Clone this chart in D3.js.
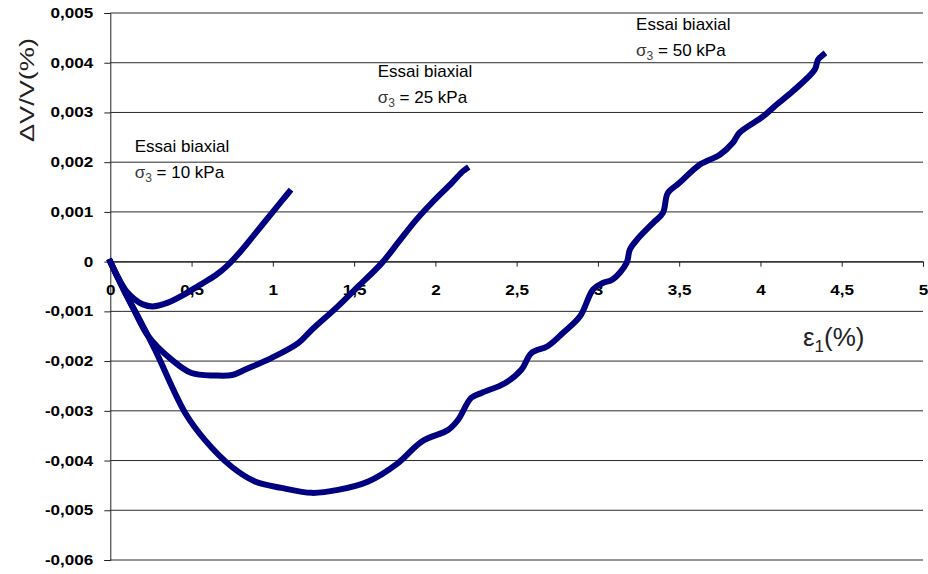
<html>
<head>
  <meta charset="UTF-8">
  <title>Essai biaxial - variation de volume</title>
  <script src="https://d3js.org/d3.v7.min.js"></script>
  <style>
    body { margin: 0; background: #fff; }
    text { font-family: "Liberation Sans", Arial, sans-serif; }
  </style>
</head>
<body>

    <svg id="chart" width="928" height="574"></svg>

    <script>

        // epsilon_1 (%) and dV/V (%)
        const x10 = [0, 0.05, 0.1, 0.15, 0.2, 0.26, 0.35, 0.45, 0.55, 0.65, 0.72, 0.8, 0.9, 1.0, 1.06, 1.1];
        const y10 = [0, -0.00033, -0.0006, -0.00076, -0.00086, -0.0009, -0.00083, -0.00067, -0.00047, -0.00027, -0.00008, 0.0002, 0.0006, 0.001, 0.00124, 0.0014];

        const x25 = [0, 0.05, 0.1, 0.15, 0.234, 0.377, 0.5, 0.644, 0.75, 0.83, 0.99, 1.156, 1.24, 1.4, 1.525, 1.67, 1.77, 1.874, 1.977, 2.1, 2.17, 2.19];
        const y25 = [0, -0.00035, -0.00068, -0.001, -0.0015, -0.00197, -0.00224, -0.00229, -0.00228, -0.00217, -0.00194, -0.00164, -0.00137, -0.0009, -0.0005, -0.00003, 0.00038, 0.00081, 0.00118, 0.00158, 0.00182, 0.00187];

        const x50 = [0, 0.05, 0.1, 0.17, 0.275, 0.46, 0.58, 0.745, 0.89, 1.054, 1.24, 1.4, 1.587, 1.77, 1.915, 2.08, 2.14, 2.22, 2.284, 2.43, 2.53, 2.59, 2.69, 2.786, 2.89, 2.97, 3.03, 3.09, 3.176, 3.196, 3.24, 3.34, 3.4, 3.43, 3.5, 3.626, 3.75, 3.83, 3.87, 4.016, 4.1, 4.2, 4.334, 4.354, 4.385];
        const y50 = [0, -0.00035, -0.00068, -0.0011, -0.00177, -0.00304, -0.00358, -0.00412, -0.00442, -0.00455, -0.00465, -0.00459, -0.00442, -0.00405, -0.00362, -0.00338, -0.00318, -0.00274, -0.00264, -0.00244, -0.00217, -0.00184, -0.0017, -0.00143, -0.0011, -0.00056, -0.00043, -0.00036, -0.00003, 0.00024, 0.00044, 0.00078, 0.00098, 0.00138, 0.00158, 0.00195, 0.00215, 0.00239, 0.00259, 0.00292, 0.00316, 0.00343, 0.00386, 0.00406, 0.00416];

        const xTicks = [0, 0.5, 1, 1.5, 2, 2.5, 3, 3.5, 4, 4.5, 5];
        const yTicks = [-0.006, -0.005, -0.004, -0.003, -0.002, -0.001, 0, 0.001, 0.002, 0.003, 0.004, 0.005];

        const series = [
            { xs: x10, ys: y10, label: ["Essai biaxial", "10 kPa"], lx: 0.15, ly: 0.00221 },
            { xs: x25, ys: y25, label: ["Essai biaxial", "25 kPa"], lx: 1.645, ly: 0.00371 },
            { xs: x50, ys: y50, label: ["Essai biaxial", "50 kPa"], lx: 3.235, ly: 0.00465 }
        ];

        const svg = d3.select("#chart");
        const plotLeft = 110.3, plotRight = 923, plotTop = 13, plotBottom = 560;

        const x = d3.scaleLinear().domain([0, 5]).range([plotLeft, plotRight]);
        const y = d3.scaleLinear().domain([-0.006, 0.005]).range([plotBottom, plotTop]);

        const stretch = 1.22;

        // horizontal grid
        svg.append("g").selectAll("line").data(yTicks).join("line")
            .attr("x1", plotLeft).attr("x2", plotRight)
            .attr("y1", d => y(d)).attr("y2", d => y(d))
            .attr("stroke", "#2a2a2a").attr("stroke-width", 1);

        // y axis
        const yAxis = svg.append("g")
            .attr("transform", "translate(" + plotLeft + ",0)")
            .call(d3.axisLeft(y).tickValues(yTicks).tickSize(6)
                .tickFormat(d => d === 0 ? "0" : d3.format(".3f")(d).replace("−", "-").replace(".", ",")));
        yAxis.select(".domain").attr("stroke", "#222");
        yAxis.selectAll(".tick line").attr("stroke", "#222");
        yAxis.selectAll("text")
            .attr("x", -17 / stretch)
            .attr("transform", "scale(" + stretch + ",1)")
            .style("font-size", "14px").style("font-weight", "bold").attr("fill", "#000");

        // x axis on the zero line
        const xAxis = svg.append("g")
            .attr("transform", "translate(0," + y(0) + ")")
            .call(d3.axisBottom(x).tickValues(xTicks).tickSize(5)
                .tickFormat(d => String(d).replace(".", ",")));
        xAxis.select(".domain").attr("stroke", "#222");
        xAxis.selectAll(".tick line").attr("stroke", "#222");
        xAxis.selectAll("text")
            .attr("y", 33).attr("dy", 0)
            .attr("transform", "scale(" + stretch + ",1)")
            .style("font-size", "14px").style("font-weight", "bold").attr("fill", "#000");

        // curves
        const line = d3.line().curve(d3.curveCatmullRom.alpha(0.5))
            .x(d => x(d[0])).y(d => y(d[1]));
        svg.append("g").selectAll("path").data(series).join("path")
            .attr("d", s => line(s.xs.map((v, i) => [v, s.ys[i]])))
            .attr("fill", "none")
            .attr("stroke", "#000080")
            .attr("stroke-width", 6)
            .attr("stroke-linejoin", "round")
            .attr("stroke-linecap", "square");

        // annotations
        series.forEach(s => {
            const g = svg.append("g")
                .attr("transform", "translate(" + x(s.lx) + "," + y(s.ly) + ")")
                .style("font-size", "17px").attr("fill", "#000");
            g.append("text").text(s.label[0]);
            const t = g.append("text").attr("y", 26);
            t.append("tspan").text("σ").attr("fill", "#333");
            t.append("tspan").text("3").attr("dy", 4).style("font-size", "12px").attr("fill", "#444");
            t.append("tspan").text(" = " + s.label[1]).attr("dy", -4);
        });

        // axis titles
        svg.append("text")
            .attr("transform", "translate(34,142) rotate(-90)")
            .attr("textLength", 104).attr("lengthAdjust", "spacingAndGlyphs")
            .style("font-size", "20px").attr("fill", "#222")
            .text("ΔV/V(%)");

        const xt = svg.append("text")
            .attr("x", 803).attr("y", 346)
            .style("font-size", "26px").attr("fill", "#222");
        xt.append("tspan").text("ε");
        xt.append("tspan").text("1").attr("dy", 6).style("font-size", "17px");
        xt.append("tspan").text("(%)").attr("dy", -6);

    </script>

</body>
</html>
